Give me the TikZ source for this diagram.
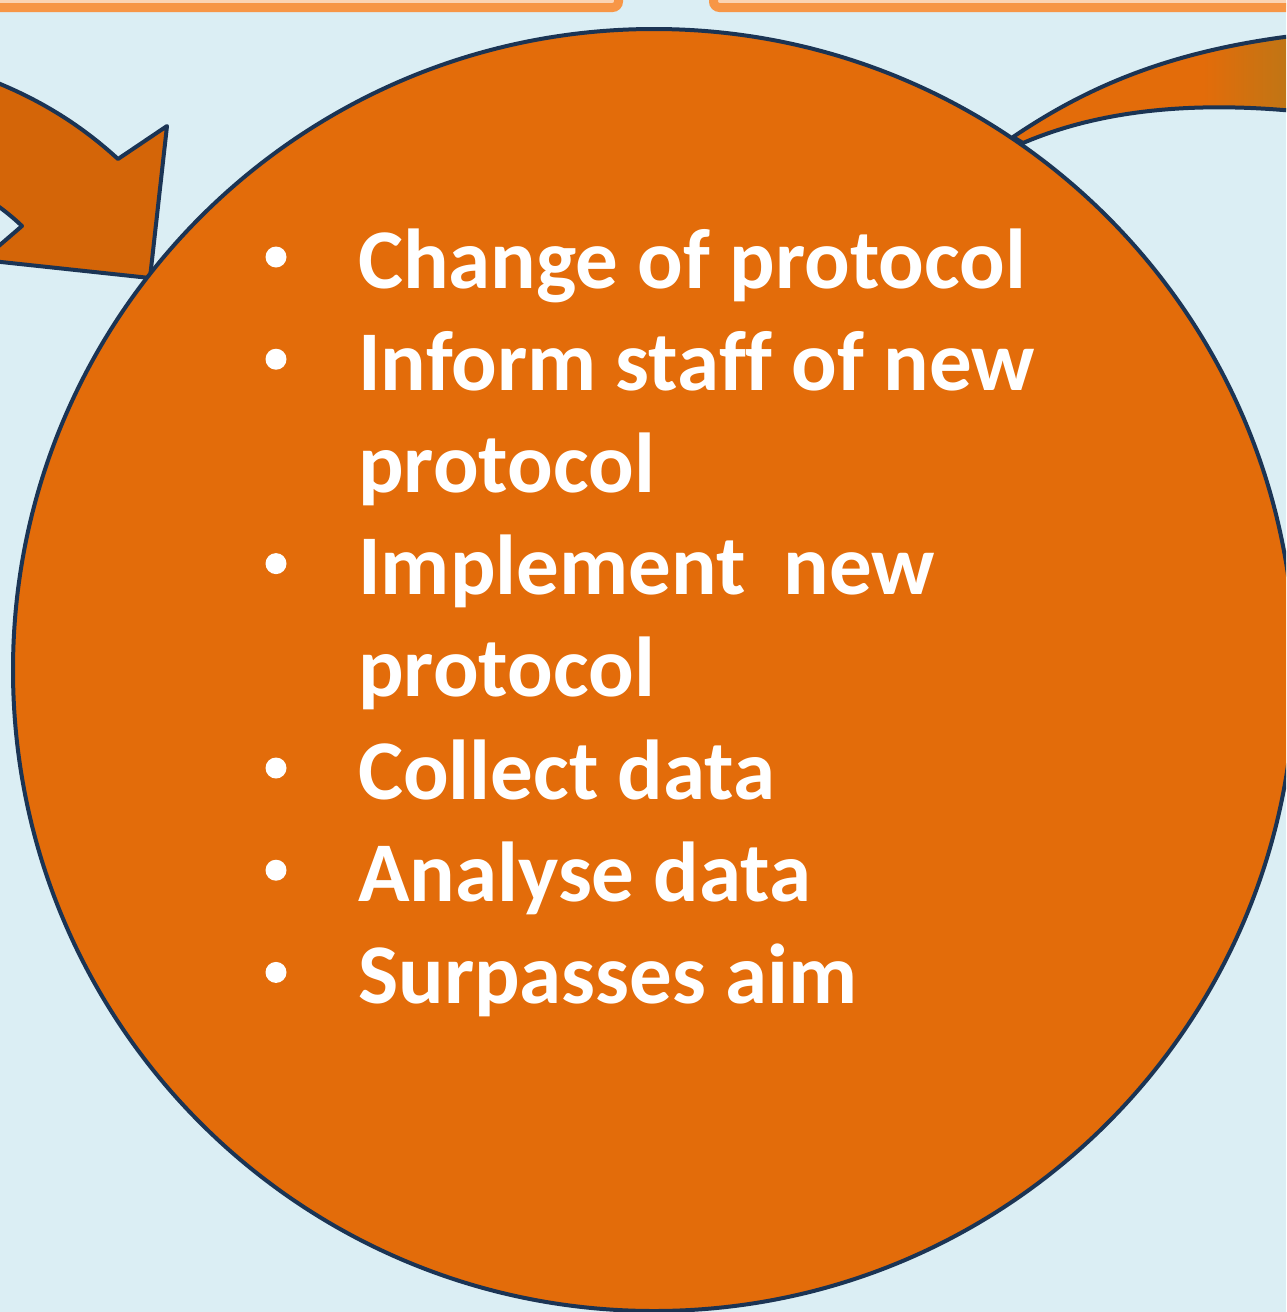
\documentclass[tikz,border=0pt]{standalone}
\usepackage{fontspec}
\setmainfont{Carlito}[Ligatures=NoCommon]
\usepackage{xcolor}
\usetikzlibrary{positioning}
\definecolor{skyback}{HTML}{DBEEF4}
\definecolor{cycleorange}{HTML}{E36C0A}
\definecolor{arroworange}{HTML}{D46508}
\definecolor{arrowbrown}{HTML}{AE7A1A}
\definecolor{framebar}{HTML}{F79646}
\definecolor{framefill}{HTML}{FBD4B4}
\definecolor{edgeblue}{HTML}{1B3454}
\pgfdeclarehorizontalshading{tailshade}{100bp}{color(0bp)=(cycleorange); color(25bp)=(cycleorange);
  color(55bp)=(cycleorange); color(75bp)=(arrowbrown); color(100bp)=(arrowbrown)}

\begin{document}
\begin{tikzpicture}[x=1pt,y=-1pt,
    edge/.style={draw=edgeblue,line width=4pt,line join=round},
    frame/.style={draw=framebar,fill=framefill,line width=9pt,rounded corners=6pt},
    item/.style={anchor=base west,inner sep=0pt,text=white,font=\fontsize{85}{100}\selectfont\bfseries},
    dot/.style={circle,fill=white,inner sep=0pt,minimum size=21pt}]
  \useasboundingbox (0,0) rectangle (1286,1312);
  \fill[skyback] (0,0) rectangle (1286,1312);
  \clip (0,0) rectangle (1286,1312);
  % boxes above
  \draw[frame] (-40,-80) rectangle (618.5,7.5);
  \draw[frame] (713.5,-80) rectangle (1330,7.5);
  % arrow coming in from the left
  \draw[edge,fill=arroworange] (-80,58) .. controls (10,80) and (70,115) .. (118,159)
    -- (167,126) -- (150,278) -- (-17.5,260) -- (22,226)
    .. controls (0,205) and (-30,185) .. (-80,165) -- cycle;
  % arrow leaving to the right
  \draw[edge,shading=tailshade]
    (1013,137) .. controls (1090,85) and (1180,45) .. (1330,32)
    -- (1330,115) .. controls (1200,98) and (1100,110) .. (1023,143) -- cycle;
  % the step
  \node (do) [circle,edge,fill=cycleorange,minimum size=1282pt,inner sep=0pt] at (654,670) {};
  \foreach \txt [count=\i] in {Change of protocol,Inform staff of new,protocol,
      Implement\ \ new,protocol,Collect data,Analyse data,Surpasses aim}
    \node (line\i) [item] at (358,{288+102.2*(\i-1)}) {\txt};
  \foreach \i in {1,2,4,6,7,8}
    \node (dot\i) [dot] at (276,{257+102.2*(\i-1)}) {};
\end{tikzpicture}
\end{document}
